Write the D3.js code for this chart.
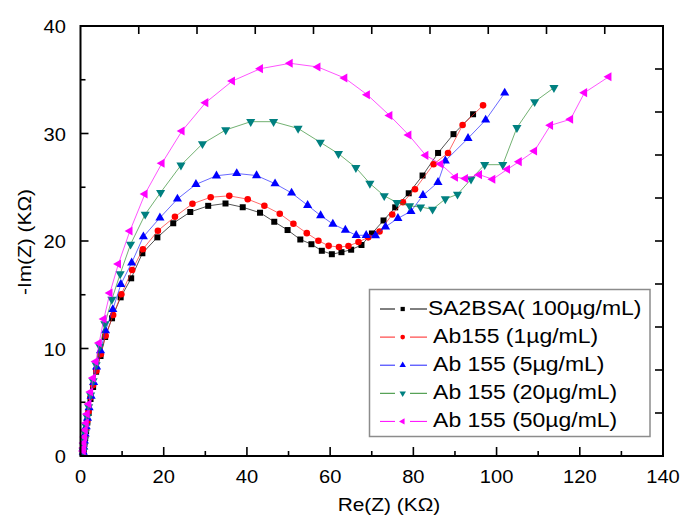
<!DOCTYPE html>
<html><head><meta charset="utf-8">
<script src="https://cdn.jsdelivr.net/npm/d3@7/dist/d3.min.js"></script>
<style>body{margin:0;background:#fff}svg{display:block;font-family:"Liberation Sans",Arial,sans-serif}</style>
</head><body>
<svg id="c" width="684" height="515"></svg>
<script>
const seriesNames = ["SA2BSA( 100µg/mL)", " Ab155 (1µg/mL)", " Ab 155 (5µg/mL)", " Ab 155 (20µg/mL)", " Ab 155 (50µg/mL)"];
const xTicks = [0,20,40,60,80,100,120,140];
const yTicks = [0,10,20,30,40];

const blackX = [0.67,0.79,0.94,1.13,1.35,1.64,1.95,2.41,3.03,3.75,4.81,5.92,7.58,9.65,12.18,14.87,18.48,22.29,26.38,30.69,34.85,38.99,43.15,46.57,49.77,52.83,55.5,58.0,60.41,62.72,65.05,67.53,70.04,72.83,75.64,78.89,82.21,85.94,89.65,94.35];
const blackY = [0.28,0.65,1.12,1.67,2.33,3.12,4.0,5.3,6.42,7.84,9.3,11.07,12.81,14.76,16.53,18.86,20.34,21.65,22.7,23.27,23.49,23.14,22.63,21.79,21.02,20.14,19.7,19.09,18.77,18.96,19.19,19.63,20.7,21.91,23.13,24.44,26.09,28.19,29.94,31.79];

const redX = [0.67,0.79,0.94,1.13,1.35,1.64,1.95,2.41,3.03,3.85,4.89,6.04,7.85,9.82,12.42,14.99,18.6,22.7,26.91,31.29,35.76,40.19,44.19,47.89,51.17,54.39,57.18,59.64,62.12,64.4,66.81,69.15,71.87,74.92,77.5,80.39,84.86,88.33,91.84,96.75];
const redY = [0.33,0.74,1.21,1.81,2.47,3.26,4.14,5.49,6.6,7.93,9.46,11.18,13.12,15.05,17.3,19.23,20.96,22.26,23.46,24.07,24.2,23.89,23.28,22.54,21.61,20.73,20.03,19.55,19.44,19.53,19.91,20.34,20.88,22.47,23.61,24.81,27.14,28.19,30.79,32.62];

const blueX = [0.67,0.79,0.94,1.13,1.37,1.68,2.07,2.55,3.15,3.87,4.81,6.02,7.77,9.7,12.3,15.11,19.09,23.3,27.75,32.68,37.55,42.31,46.76,50.73,54.59,57.71,60.65,63.66,66.26,68.66,70.9,73.31,76.29,79.42,82.31,85.92,87.68,93.14,97.38,101.95];
const blueY = [0.37,0.84,1.4,2.05,2.74,3.53,4.51,5.58,6.84,8.28,9.81,11.66,13.63,15.97,17.97,20.4,22.16,23.91,25.27,26.07,26.28,26.09,25.33,24.47,23.32,22.37,21.58,21.02,20.53,20.53,20.51,21.32,22.11,22.76,24.25,25.46,27.46,29.55,31.26,33.77];

const greenX = [0.67,0.79,0.94,1.11,1.32,1.59,1.95,2.43,3.03,3.75,4.64,5.85,7.53,9.53,12.03,15.55,19.25,24.14,29.31,34.9,40.91,46.4,52.3,57.64,62.0,66.19,69.55,73.0,76.05,79.09,81.73,84.62,87.68,90.61,93.86,97.14,101.49,104.89,109.15,113.79];
const greenY = [0.47,0.93,1.49,2.14,2.79,3.63,4.56,5.67,6.98,8.47,10.19,12.28,14.56,16.93,19.69,22.48,24.51,27.05,29.04,30.33,31.1,31.1,30.47,29.18,28.12,26.82,25.35,24.2,23.58,23.27,23.16,22.95,23.91,24.34,25.75,27.1,27.1,30.54,32.95,34.26];

const magentaX = [0.63,0.72,0.79,0.96,1.11,1.35,1.59,2.0,2.41,3.03,3.68,4.48,5.61,7.06,9.1,11.87,15.48,19.57,24.38,30.08,36.49,43.22,50.37,57.04,63.49,68.91,74.32,78.89,82.98,86.55,90.08,92.49,95.86,99.06,102.6,105.42,109.1,112.95,117.77,121.13,126.98];
const magentaY = [0.47,0.74,1.21,1.77,2.42,3.07,3.91,4.84,5.95,7.26,8.79,10.51,12.74,15.16,17.86,20.93,24.37,27.23,30.23,32.87,34.88,36.03,36.53,36.19,35.16,33.61,31.67,29.86,27.97,27.16,25.93,25.81,26.17,25.74,26.67,27.38,28.37,30.76,31.32,33.8,35.28];

const lineColors = ["#000000","#ff2020","#2020ff","#2e8b2e","#ff00ff"];
const markColors = ["#000000","#ff0000","#0000ff","#008080","#ff00ff"];

const series = [
  {name: seriesNames[0], xs: blackX, ys: blackY, sym: d3.symbolSquare, rot: 0, size: 36},
  {name: seriesNames[1], xs: redX, ys: redY, sym: d3.symbolCircle, rot: 0, size: 34},
  {name: seriesNames[2], xs: blueX, ys: blueY, sym: d3.symbolTriangle, rot: 0, size: 36},
  {name: seriesNames[3], xs: greenX, ys: greenY, sym: d3.symbolTriangle, rot: 180, size: 36},
  {name: seriesNames[4], xs: magentaX, ys: magentaY, sym: d3.symbolTriangle, rot: -90, size: 36}
];

const svg = d3.select("#c");
const L = 80.5, R = 663, T = 26, B = 456;
const x = d3.scaleLinear().domain([0,140]).range([L,R]);
const y = d3.scaleLinear().domain([0,40]).range([B,T]);

// ticks
const tickG = svg.append("g").attr("stroke","#000").attr("stroke-width",1.6);
d3.range(0,141,10).forEach(v=>{
  const len = v%20===0 ? 9 : 5;
  tickG.append("line").attr("x1",x(v)).attr("x2",x(v)).attr("y1",B).attr("y2",B-len);
});
d3.range(14,127,14).forEach(v=>{
  tickG.append("line").attr("x1",x(v)).attr("x2",x(v)).attr("y1",T).attr("y2",T+8);
});
d3.range(0,41,5).forEach(v=>{
  const len = v%10===0 ? 8 : 5;
  tickG.append("line").attr("x1",L).attr("x2",L+len).attr("y1",y(v)).attr("y2",y(v));
});
d3.range(4,37,4).forEach(v=>{
  tickG.append("line").attr("x1",R).attr("x2",R-8).attr("y1",y(v)).attr("y2",y(v));
});

// tick labels
svg.append("g").selectAll("text").data(xTicks).join("text")
  .attr("transform",d=>`translate(${x(d)},483) scale(1.06,1)`).attr("text-anchor","middle")
  .attr("font-size",19).text(d=>d);
svg.append("g").selectAll("text").data(yTicks).join("text")
  .attr("transform",d=>`translate(66,${y(d)+7}) scale(1.06,1)`).attr("text-anchor","end")
  .attr("font-size",19).text(d=>d);

// axis titles
svg.append("text").attr("transform","translate(389,511) scale(1.1,1)").attr("text-anchor","middle")
  .attr("font-size",19).text("Re(Z) (KΩ)");
svg.append("text").attr("transform","translate(31,242) rotate(-90) scale(1.1,1)").attr("text-anchor","middle")
  .attr("font-size",19).text("-Im(Z) (KΩ)");

// series
const line = d3.line().x(d=>x(d[0])).y(d=>y(d[1]));
series.forEach((s,i)=>{
  const pts = s.xs.map((v,k)=>[v,s.ys[k]]);
  svg.append("path").datum(pts).attr("d",line).attr("fill","none")
    .attr("stroke",lineColors[i]).attr("stroke-width",0.8).attr("opacity",0.85);
  const sym = d3.symbol().type(s.sym).size(s.size);
  svg.append("g").selectAll("path").data(pts).join("path")
    .attr("d",sym).attr("fill",markColors[i])
    .attr("transform",d=>`translate(${x(d[0])},${y(d[1])}) rotate(${s.rot})`);
});

// frame
svg.append("rect").attr("x",L).attr("y",T).attr("width",R-L).attr("height",B-T)
  .attr("fill","none").attr("stroke","#000").attr("stroke-width",2);

// legend
const lg = svg.append("g");
lg.append("rect").attr("x",369.5).attr("y",289.5).attr("width",280.5).attr("height",147)
  .attr("fill","#fff").attr("stroke","#8c8c8c").attr("stroke-width",1.5);
series.forEach((s,i)=>{
  const by = 315 + i*28.1;
  const cy = by - 6;
  lg.append("line").attr("x1",380).attr("x2",395).attr("y1",cy).attr("y2",cy)
    .attr("stroke",lineColors[i]).attr("stroke-width",1);
  lg.append("line").attr("x1",410).attr("x2",427).attr("y1",cy).attr("y2",cy)
    .attr("stroke",lineColors[i]).attr("stroke-width",1);
  lg.append("path").attr("d",d3.symbol().type(s.sym).size(s.size*0.5)())
    .attr("fill",markColors[i]).attr("transform",`translate(402.7,${cy}) rotate(${s.rot})`);
  lg.append("text").attr("transform",`translate(428,${by}) scale(1.12,1)`).attr("font-size",20.5)
    .style("white-space","pre").text(s.name);
});
</script>
</body></html>
